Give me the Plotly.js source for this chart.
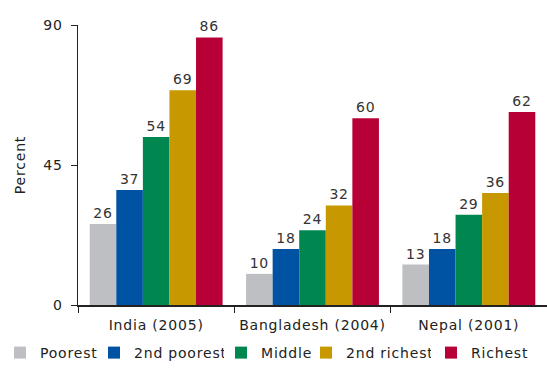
<!DOCTYPE html>
<html>
<head>
<meta charset="utf-8">
<script src="https://cdn.plot.ly/plotly-3.0.1.min.js"></script>
<style>
html,body{margin:0;padding:0;background:#fff;}
#chart{width:547px;height:369px;}
#chart svg text{letter-spacing:0.8px;}
</style>
</head>
<body>
<div id="chart"></div>
<script>
const categories = ["India (2005)", "Bangladesh (2004)", "Nepal (2001)"];
const seriesNames = ["Poorest", "2nd poorest", "Middle", "2nd richest", "Richest"];
const poorest = [26, 10, 13];
const poorest2 = [37, 18, 18];
const middle = [54, 24, 29];
const richest2 = [69, 32, 36];
const richest = [86, 60, 62];
const yTicks = [0, 45, 90];
const colors = ["#BEBFC3", "#0052A3", "#00874F", "#C79800", "#B70036"];
const legendLeftPx = [0, 94, 221, 306, 431];

const values = [poorest, poorest2, middle, richest2, richest];
const font = "DejaVu Sans, sans-serif";
const W = 547, H = 369, ML = 78, MR = 0, MT = 25, MB = 64;
const plotW = W - ML - MR, plotH = H - MT - MB;

const traces = values.map((v, i) => ({
  type: "bar",
  name: seriesNames[i],
  legend: i === 0 ? "legend" : "legend" + (i + 1),
  x: categories,
  y: v,
  marker: {color: colors[i]},
  text: v.map(String),
  textposition: "outside",
  constraintext: "none",
  cliponaxis: false,
  textfont: {family: font, size: 14, color: "#333"}
}));

const layout = {
  width: W, height: H,
  margin: {l: ML, r: MR, t: MT, b: MB},
  paper_bgcolor: "#fff", plot_bgcolor: "#fff",
  barmode: "group",
  bargap: 0.15,
  bargroupgap: 0,
  font: {family: font, size: 14, color: "#222"},
  showlegend: true,
  xaxis: {
    type: "category",
    range: [-0.5, 2.5],
    showline: true, linecolor: "#222", linewidth: 1.5,
    ticks: "outside", tickson: "boundaries", ticklen: 6, tickcolor: "#222",
    tickfont: {family: font, size: 14, color: "#222"},
    ticklabelstandoff: 7,
    showgrid: false, zeroline: false
  },
  yaxis: {
    range: [0, 90],
    tickvals: yTicks,
    ticktext: yTicks.map(String),
    showline: true, linecolor: "#222", linewidth: 1.5,
    ticks: "outside", ticklen: 6, tickcolor: "#222",
    tickfont: {family: font, size: 14, color: "#222"},
    ticklabelstandoff: 5,
    showgrid: false, zeroline: false,
    title: {text: "Percent", font: {family: font, size: 14, color: "#222"}, standoff: 16}
  }
};

legendLeftPx.forEach((px, i) => {
  const key = i === 0 ? "legend" : "legend" + (i + 1);
  layout[key] = {
    orientation: "h",
    x: (px - ML) / plotW, xanchor: "left",
    y: (MT + plotH - 353) / plotH, yanchor: "middle",
    font: {family: font, size: 14, color: "#222"},
    itemwidth: 30, bgcolor: "rgba(0,0,0,0)", borderwidth: 0
  };
});

Plotly.newPlot("chart", traces, layout, {displayModeBar: false, staticPlot: true});
</script>
</body>
</html>
